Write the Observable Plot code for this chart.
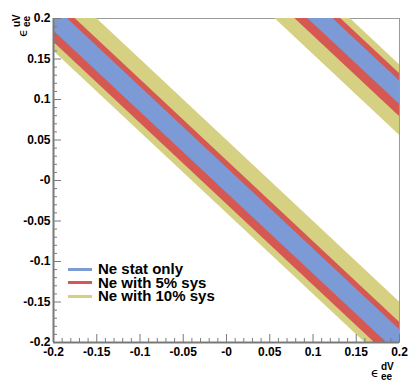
<!DOCTYPE html>
<html>
<head>
<meta charset="utf-8">
<script src="https://cdn.jsdelivr.net/npm/d3@7"></script>
<script src="https://cdn.jsdelivr.net/npm/@observablehq/plot@0.6"></script>
<style>
  html, body { margin: 0; padding: 0; background: #fff; }
  #wrap { position: relative; width: 420px; height: 388px; overflow: hidden;
          font-family: "Liberation Sans", Arial, Helvetica, sans-serif; }
  #wrap svg { display: block; position: absolute; left: 0; top: 0; }
  .sw { position: absolute; left: 68px; width: 24px; height: 3px; }
  .legtx { position: absolute; left: 98px; height: 12px; line-height: 12px;
           font-weight: bold; font-size: 15px; color: #000; white-space: nowrap; }
  .title { position: absolute; white-space: nowrap; color: #000; }
  .title .eps { position: absolute; left: 0; top: 6px; height: 10px; line-height: 10px;
                font-family: "DejaVu Sans", sans-serif; font-size: 13px; }
  .title .sup, .title .sub { position: absolute; left: 10px; height: 8px; line-height: 8px;
                font-weight: bold; font-size: 10px; }
  .title .sup { top: 1px; }
  .title .sub { top: 11px; }
</style>
</head>
<body>
<div id="wrap"></div>
<script>
// ---- data ----
const xTicks = [-0.2, -0.15, -0.1, -0.05, 0, 0.05, 0.1, 0.15, 0.2];
const xTickLabels = ["-0.2", "-0.15", "-0.1", "-0.05", "-0", "0.05", "0.1", "0.15", "0.2"];
const yTicks = [-0.2, -0.15, -0.1, -0.05, 0, 0.05, 0.1, 0.15, 0.2];
const yTickLabels = ["-0.2", "-0.15", "-0.1", "-0.05", "-0", "0.05", "0.1", "0.15", "0.2"];

const bandNames = ["Ne with 10% sys", "Ne with 5% sys", "Ne stat only"];
const bandColors = ["#d6d082", "#d55852", "#7b9ad6"];
// each band edge is a straight line of slope -1: value = x + y
const mainLow  = [-0.040, -0.029, -0.015];
const mainHigh = [ 0.050,  0.025,  0.016];
const sideLow  = [ 0.256,  0.279,  0.294];
const sideHigh = [ 0.343,  0.332,  0.323];
const xRange = [-0.2, 0.2];

const legendNames = ["Ne stat only", "Ne with 5% sys", "Ne with 10% sys"];
const legendColors = ["#7b9ad6", "#d55852", "#d6d082"];

// ---- build tables ----
const minorTicks = d3.range(-20, 21).filter(i => i % 5 !== 0).map(i => i / 100);

function bandRows(i) {
  const rows = [];
  for (const [part, lo, hi] of [["main", mainLow[i], mainHigh[i]], ["side", sideLow[i], sideHigh[i]]]) {
    for (const x of xRange) rows.push({part, x, y1: lo - x, y2: hi - x});
  }
  return rows;
}

const axisColor = "#7a7a7a";
const fmtX = d => xTickLabels[xTicks.indexOf(d)];
const fmtY = d => yTickLabels[yTicks.indexOf(d)];

const chart = Plot.plot({
  width: 420,
  height: 388,
  marginLeft: 53,
  marginRight: 21,
  marginTop: 18,
  marginBottom: 46,
  style: {fontFamily: "'Liberation Sans', Arial, sans-serif", background: "transparent"},
  x: {domain: [-0.2, 0.2]},
  y: {domain: [-0.2, 0.2]},
  marks: [
    Plot.frame({stroke: "#9a9a9a", strokeWidth: 1}),
    ...bandColors.map((c, i) =>
      Plot.areaY(bandRows(i), {x: "x", y1: "y1", y2: "y2", z: "part", fill: c, clip: true})
    ),
    Plot.ruleX([xRange[0]], {stroke: axisColor, strokeWidth: 2}),
    Plot.ruleY([xRange[0]], {stroke: axisColor, strokeWidth: 2}),
    Plot.axisX(minorTicks, {anchor: "bottom", tickSize: -4, fill: "none", stroke: axisColor, label: null}),
    Plot.axisY(minorTicks, {anchor: "left", tickSize: -4, fill: "none", stroke: axisColor, label: null}),
    Plot.axisX(xTicks, {anchor: "bottom", tickSize: -8, tickPadding: 13, tickFormat: fmtX,
      stroke: axisColor, fill: "#000", fontSize: 12, fontWeight: "bold", label: null}),
    Plot.axisY(yTicks, {anchor: "left", tickSize: -8, tickPadding: 11, tickFormat: fmtY,
      stroke: axisColor, fill: "#000", fontSize: 12, fontWeight: "bold", label: null})
  ]
});

const wrap = document.getElementById("wrap");
wrap.appendChild(chart);

// legend (inside the frame, lower left)
const legendCenters = [269, 282.5, 296];
legendNames.forEach((name, i) => {
  const sw = document.createElement("div");
  sw.className = "sw";
  sw.style.top = (legendCenters[i] - 1.5) + "px";
  sw.style.background = legendColors[i];
  wrap.appendChild(sw);
  const tx = document.createElement("div");
  tx.className = "legtx";
  tx.style.top = (legendCenters[i] - 6) + "px";
  tx.textContent = name;
  wrap.appendChild(tx);
});

// axis titles
function makeTitle(sup, sub) {
  const t = document.createElement("div");
  t.className = "title";
  const e = document.createElement("div");
  e.className = "eps";
  e.textContent = "\u03F5";
  const a = document.createElement("div"); a.className = "sup"; a.textContent = sup;
  const b = document.createElement("div"); b.className = "sub"; b.textContent = sub;
  t.appendChild(e); t.appendChild(a); t.appendChild(b);
  return t;
}
const xt = makeTitle("dV", "ee");
xt.style.left = "371px";
xt.style.top = "362px";
xt.style.width = "26px";
xt.style.height = "20px";
wrap.appendChild(xt);

const yt = makeTitle("uV", "ee");
yt.style.left = "9px";
yt.style.top = "14px";
yt.style.width = "26px";
yt.style.height = "20px";
yt.style.transform = "rotate(-90deg)";
yt.style.transformOrigin = "50% 50%";
wrap.appendChild(yt);
</script>
</body>
</html>
